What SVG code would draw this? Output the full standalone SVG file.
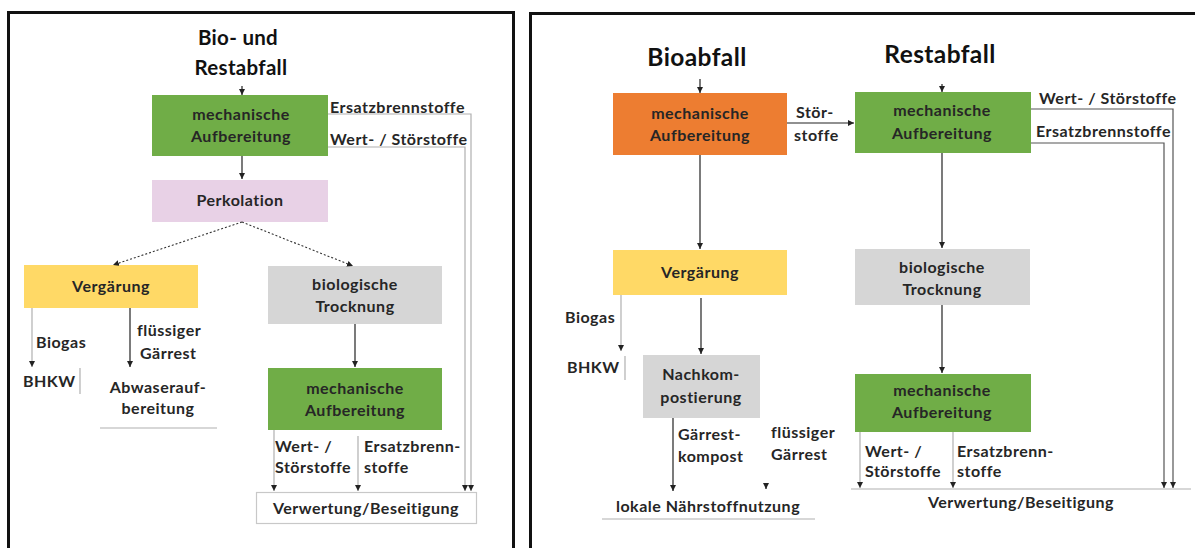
<svg xmlns="http://www.w3.org/2000/svg" width="1195" height="548" viewBox="0 0 1195 548">
  <style>
    .t { font-family: Lato, "Liberation Sans", sans-serif; font-weight: bold; fill: #262626; font-size: 16px; letter-spacing: 0.5px; text-anchor: middle; }
    .tl { text-anchor: start; }
    .title { font-size: 20.5px; fill: #111; letter-spacing: 0.3px; }
    .big { font-size: 24.5px; letter-spacing: 0.4px; }
    .frame { fill: none; stroke: #111; stroke-width: 3; }
    .dk { stroke: #222; stroke-width: 1.2; fill: none; }
    .lt { stroke: #b0b0b0; stroke-width: 1.2; fill: none; }
    .md { stroke: #555; stroke-width: 1.2; fill: none; }
    .ds { stroke: #333; stroke-width: 1.1; stroke-dasharray: 2 2; fill: none; }
    .green { fill: #70ad47; }
    .orange { fill: #ed7d31; }
    .yellow { fill: #ffd966; }
    .grey { fill: #d6d6d6; }
    .pink { fill: #e8d1e6; }
  </style>
  <defs>
    <marker id="ah" viewBox="0 0 6 6" refX="6" refY="3" markerWidth="6" markerHeight="6" markerUnits="userSpaceOnUse" orient="auto">
      <path d="M0,0 L6,3 L0,6 z" fill="#222"/>
    </marker>
  </defs>
  <rect width="1195" height="548" fill="#fff"/>

  <!-- panel frames -->
  <rect class="frame" x="8.5" y="12.5" width="505" height="560"/>
  <rect class="frame" x="530.5" y="13.5" width="700" height="560"/>

  <!-- ===== left panel: combined bio- and residual waste ===== -->
  <g id="l-title">
    <text class="t title" x="238" y="45">Bio- und</text>
    <text class="t title" x="241" y="75">Restabfall</text>
  </g>
  <g id="l-mech1">
    <rect class="green" x="152" y="95" width="176" height="61"/>
    <text class="t" x="241" y="120">mechanische</text>
    <text class="t" x="241" y="142">Aufbereitung</text>
  </g>
  <g id="l-perk">
    <rect class="pink" x="152" y="180" width="176" height="42"/>
    <text class="t" x="240" y="206">Perkolation</text>
  </g>
  <g id="l-verg">
    <rect class="yellow" x="24" y="265" width="174" height="43"/>
    <text class="t" x="111" y="292">Vergärung</text>
  </g>
  <g id="l-trock">
    <rect class="grey" x="268" y="266" width="174" height="58"/>
    <text class="t" x="355" y="290">biologische</text>
    <text class="t" x="355" y="312">Trocknung</text>
  </g>
  <g id="l-mech2">
    <rect class="green" x="268" y="368" width="174" height="62"/>
    <text class="t" x="355" y="394">mechanische</text>
    <text class="t" x="355" y="416">Aufbereitung</text>
  </g>
  <g id="l-bhkw">
    <text class="t tl" x="23" y="387">BHKW</text>
    <line class="lt" x1="80" y1="368" x2="80" y2="394"/>
  </g>
  <g id="l-abwasser">
    <text class="t" x="158" y="393">Abwaserauf-</text>
    <text class="t" x="158" y="414">bereitung</text>
    <line class="lt" x1="100" y1="428" x2="217" y2="428"/>
  </g>
  <g id="l-verwertung">
    <rect x="256.5" y="492.5" width="220" height="31" fill="#fff" stroke="#c8c8c8" stroke-width="1.2"/>
    <text class="t" x="366" y="514">Verwertung/Beseitigung</text>
  </g>

  <g id="l-connectors">
    <line class="dk" x1="242" y1="86" x2="242" y2="95" marker-end="url(#ah)"/>
    <line class="dk" x1="242" y1="156" x2="242" y2="179" marker-end="url(#ah)"/>
    <line class="ds" x1="242" y1="222" x2="113" y2="265" marker-end="url(#ah)"/>
    <line class="ds" x1="242" y1="222" x2="353" y2="266" marker-end="url(#ah)"/>
    <polyline class="lt" points="328,114 471,114 471,491" marker-end="url(#ah)"/>
    <polyline class="lt" points="328,147 465,147 465,491" marker-end="url(#ah)"/>
    <line class="lt" x1="32" y1="308" x2="32" y2="367" marker-end="url(#ah)"/>
    <line class="dk" x1="130" y1="308" x2="130" y2="367" marker-end="url(#ah)"/>
    <line class="dk" x1="355" y1="324" x2="355" y2="367" marker-end="url(#ah)"/>
    <line class="lt" x1="274" y1="430" x2="274" y2="491" marker-end="url(#ah)"/>
    <line class="lt" x1="358" y1="436" x2="358" y2="491" marker-end="url(#ah)"/>
  </g>
  <g id="l-labels">
    <text class="t tl" x="330" y="113">Ersatzbrennstoffe</text>
    <text class="t tl" x="330" y="145">Wert- / Störstoffe</text>
    <text class="t tl" x="36" y="348">Biogas</text>
    <text class="t tl" x="137" y="336">flüssiger</text>
    <text class="t tl" x="140" y="359">Gärrest</text>
    <text class="t tl" x="275" y="452">Wert- /</text>
    <text class="t tl" x="275" y="473">Störstoffe</text>
    <text class="t tl" x="364" y="452">Ersatzbrenn-</text>
    <text class="t tl" x="364" y="473">stoffe</text>
  </g>

  <!-- ===== right panel: separate bio and residual waste ===== -->
  <g id="r-title-bio">
    <text class="t title big" x="697" y="66">Bioabfall</text>
  </g>
  <g id="r-title-rest">
    <text class="t title big" x="940" y="63">Restabfall</text>
  </g>
  <g id="r-mech-bio">
    <rect class="orange" x="613" y="93" width="174" height="62"/>
    <text class="t" x="700" y="119">mechanische</text>
    <text class="t" x="700" y="141">Aufbereitung</text>
  </g>
  <g id="r-mech-rest">
    <rect class="green" x="855" y="92" width="176" height="61"/>
    <text class="t" x="942" y="116">mechanische</text>
    <text class="t" x="942" y="139">Aufbereitung</text>
  </g>
  <g id="r-verg">
    <rect class="yellow" x="613" y="250" width="174" height="45"/>
    <text class="t" x="700" y="278">Vergärung</text>
  </g>
  <g id="r-trock">
    <rect class="grey" x="855" y="249" width="175" height="56"/>
    <text class="t" x="942" y="273">biologische</text>
    <text class="t" x="942" y="295">Trocknung</text>
  </g>
  <g id="r-nachkomp">
    <rect class="grey" x="643" y="355" width="117" height="63"/>
    <text class="t" x="701" y="380">Nachkom-</text>
    <text class="t" x="701" y="403">postierung</text>
  </g>
  <g id="r-mech2">
    <rect class="green" x="855" y="374" width="176" height="58"/>
    <text class="t" x="942" y="396">mechanische</text>
    <text class="t" x="942" y="418">Aufbereitung</text>
  </g>
  <g id="r-bhkw">
    <text class="t tl" x="567" y="373">BHKW</text>
    <line class="lt" x1="625" y1="356" x2="625" y2="380"/>
  </g>
  <g id="r-lokal">
    <text class="t" x="708" y="512">lokale Nährstoffnutzung</text>
    <line class="lt" x1="602" y1="519" x2="815" y2="519"/>
  </g>
  <g id="r-verwertung">
    <line class="lt" x1="851" y1="489" x2="1191" y2="489"/>
    <text class="t" x="1021" y="508">Verwertung/Beseitigung</text>
  </g>

  <g id="r-connectors">
    <line class="dk" x1="700" y1="79" x2="700" y2="93" marker-end="url(#ah)"/>
    <line class="dk" x1="942" y1="84" x2="942" y2="92" marker-end="url(#ah)"/>
    <line class="dk" x1="787" y1="123" x2="854" y2="123" marker-end="url(#ah)"/>
    <line class="dk" x1="700" y1="155" x2="700" y2="249" marker-end="url(#ah)"/>
    <line class="dk" x1="942" y1="153" x2="942" y2="248" marker-end="url(#ah)"/>
    <polyline class="md" points="1031,109 1173,109 1173,488" marker-end="url(#ah)"/>
    <polyline class="md" points="1031,143 1164,143 1164,488" marker-end="url(#ah)"/>
    <line class="lt" x1="621" y1="295" x2="621" y2="351" marker-end="url(#ah)"/>
    <line class="dk" x1="701" y1="298" x2="701" y2="354" marker-end="url(#ah)"/>
    <line class="dk" x1="942" y1="305" x2="942" y2="373" marker-end="url(#ah)"/>
    <line class="dk" x1="673" y1="418" x2="673" y2="491" marker-end="url(#ah)"/>
    <line class="dk" x1="766" y1="483" x2="766" y2="489" marker-end="url(#ah)"/>
    <line class="lt" x1="860" y1="432" x2="860" y2="488" marker-end="url(#ah)"/>
    <line class="lt" x1="953" y1="432" x2="953" y2="488" marker-end="url(#ah)"/>
  </g>
  <g id="r-labels">
    <text class="t tl" x="796" y="118">Stör-</text>
    <text class="t tl" x="794" y="141">stoffe</text>
    <text class="t tl" x="1039" y="104">Wert- / Störstoffe</text>
    <text class="t tl" x="1036" y="137">Ersatzbrennstoffe</text>
    <text class="t tl" x="565" y="323">Biogas</text>
    <text class="t tl" x="678" y="440">Gärrest-</text>
    <text class="t tl" x="678" y="462">kompost</text>
    <text class="t tl" x="771" y="438">flüssiger</text>
    <text class="t tl" x="771" y="460">Gärrest</text>
    <text class="t tl" x="865" y="457">Wert- /</text>
    <text class="t tl" x="865" y="477">Störstoffe</text>
    <text class="t tl" x="957" y="457">Ersatzbrenn-</text>
    <text class="t tl" x="957" y="477">stoffe</text>
  </g>
</svg>
